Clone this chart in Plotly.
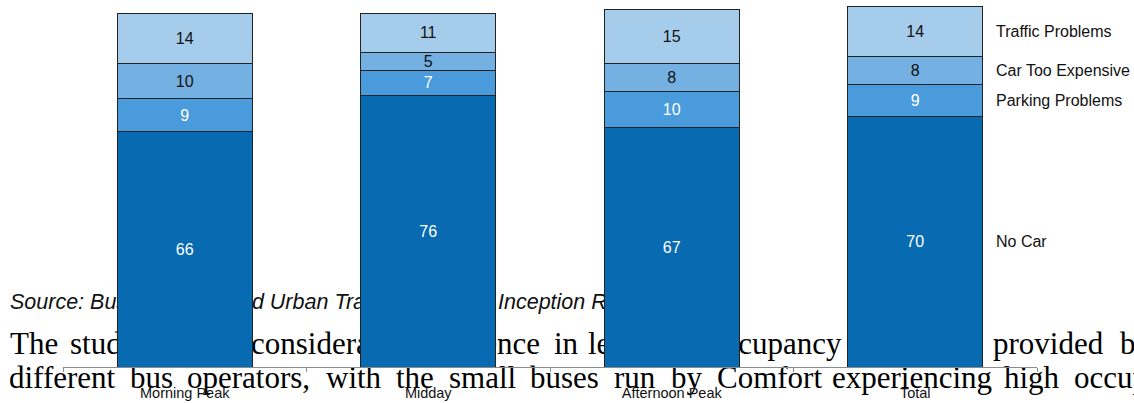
import plotly.graph_objects as go

# ---- chart data -------------------------------------------------------------
categories = ["Morning Peak", "Midday", "Afternoon Peak", "Total"]
series_names = ["No Car", "Parking Problems", "Car Too Expensive", "Traffic Problems"]
no_car = [66, 76, 67, 70]
parking_problems = [9, 7, 10, 9]
car_too_expensive = [10, 5, 8, 8]
traffic_problems = [14, 11, 15, 14]

# ---- page text that sits behind the chart (word, left edge in px) -----------
source_words = [("Source: Bus Industry", 10), ("and Urban Transport Study,", 228),
                ("Inception Report", 498)]
body_line1 = [("The", 10), ("study", 70), ("found", 158), ("considerable", 251),
              ("difference", 415), ("in", 554), ("levels", 588), ("of", 673),
              ("occupancy", 709), ("of", 852), ("services", 880), ("provided", 993),
              ("by", 1120)]
body_line2 = [("different", 9), ("bus", 130), ("operators,", 187), ("with", 326),
              ("the", 396), ("small", 449), ("buses", 530), ("run", 614), ("by", 671),
              ("Comfort", 717), ("experiencing", 832), ("high", 1004), ("occupancy", 1074)]

# ---- styling ------------------------------------------------------------------
W, H = 1134, 403
SANS = "Liberation Sans, Arial, sans-serif"
SERIF = "Liberation Serif, Times New Roman, serif"
colors = ["#086AB0", "#4A9BDC", "#75B0E2", "#A6CCEC"]
label_colors = ["white", "white", "#111111", "#111111"]

# plot-area geometry of the bar chart, in pixels
PLOT_LEFT, PLOT_RIGHT, PLOT_BOTTOM = 63, 1037, 367
PX_PER_UNIT = 3.574
BAR_WIDTH = 0.554

fig = go.Figure()

# page text lines, on an underlying pixel-coordinate subplot
def text_line(words, baseline, size, family, style="normal", color="#111111"):
    fig.add_trace(go.Scatter(
        x=[x for _, x in words],
        y=[baseline - 0.25 * size] * len(words),
        text=[w for w, _ in words],
        mode="text",
        textposition="middle right",
        textfont=dict(family=family, size=size, color=color, style=style),
        hoverinfo="skip", showlegend=False, cliponaxis=False,
        xaxis="x", yaxis="y",
    ))

text_line(source_words, 309, 21.5, SANS, style="italic")
text_line(body_line1, 354, 31, SERIF, color="#000000")
text_line(body_line2, 388, 31, SERIF, color="#000000")

# stacked bars
all_series = [no_car, parking_problems, car_too_expensive, traffic_problems]
for name, vals, col, lcol in zip(series_names, all_series, colors, label_colors):
    fig.add_trace(go.Bar(
        x=categories, y=vals, name=name,
        width=BAR_WIDTH,
        marker=dict(color=col, line=dict(color="#222222", width=1)),
        text=vals, texttemplate="%{y}",
        textposition="inside", insidetextanchor="middle",
        textangle=0, constraintext="none",
        textfont=dict(family=SANS, size=16, color=lcol),
        hoverinfo="skip", showlegend=False,
        xaxis="x2", yaxis="y2",
    ))

# series names beside the last stack
last = len(categories) - 1
base = 0
annotations = []
for name, vals in zip(series_names, all_series):
    v = vals[last]
    annotations.append(dict(
        x=last, y=base + v / 2, xref="x2", yref="y2",
        text=name, showarrow=False, xanchor="left", yanchor="middle",
        xshift=79, font=dict(family=SANS, size=16, color="#111111"),
    ))
    base += v

y2_max = PLOT_BOTTOM / PX_PER_UNIT

fig.update_layout(
    width=W, height=H,
    margin=dict(l=0, r=0, t=0, b=0),
    paper_bgcolor="white", plot_bgcolor="rgba(0,0,0,0)",
    barmode="stack",
    showlegend=False,
    annotations=annotations,
    xaxis=dict(domain=[0, 1], range=[0, W], visible=False, fixedrange=True),
    yaxis=dict(domain=[0, 1], range=[H, 0], visible=False, fixedrange=True),
    xaxis2=dict(
        domain=[PLOT_LEFT / W, PLOT_RIGHT / W], anchor="y2",
        type="category", range=[-0.5, len(categories) - 0.5],
        showline=True, linecolor="#8c8c8c", linewidth=1,
        ticks="outside", ticklen=4, tickcolor="#8c8c8c", tickson="boundaries",
        showgrid=False, zeroline=False,
        tickfont=dict(family=SANS, size=14.5, color="#111111"),
        ticklabelstandoff=13,
    ),
    yaxis2=dict(
        domain=[(H - PLOT_BOTTOM) / H, 1], anchor="x2",
        range=[0, y2_max], visible=False, showgrid=False,
    ),
)

fig.write_html("out.html")
